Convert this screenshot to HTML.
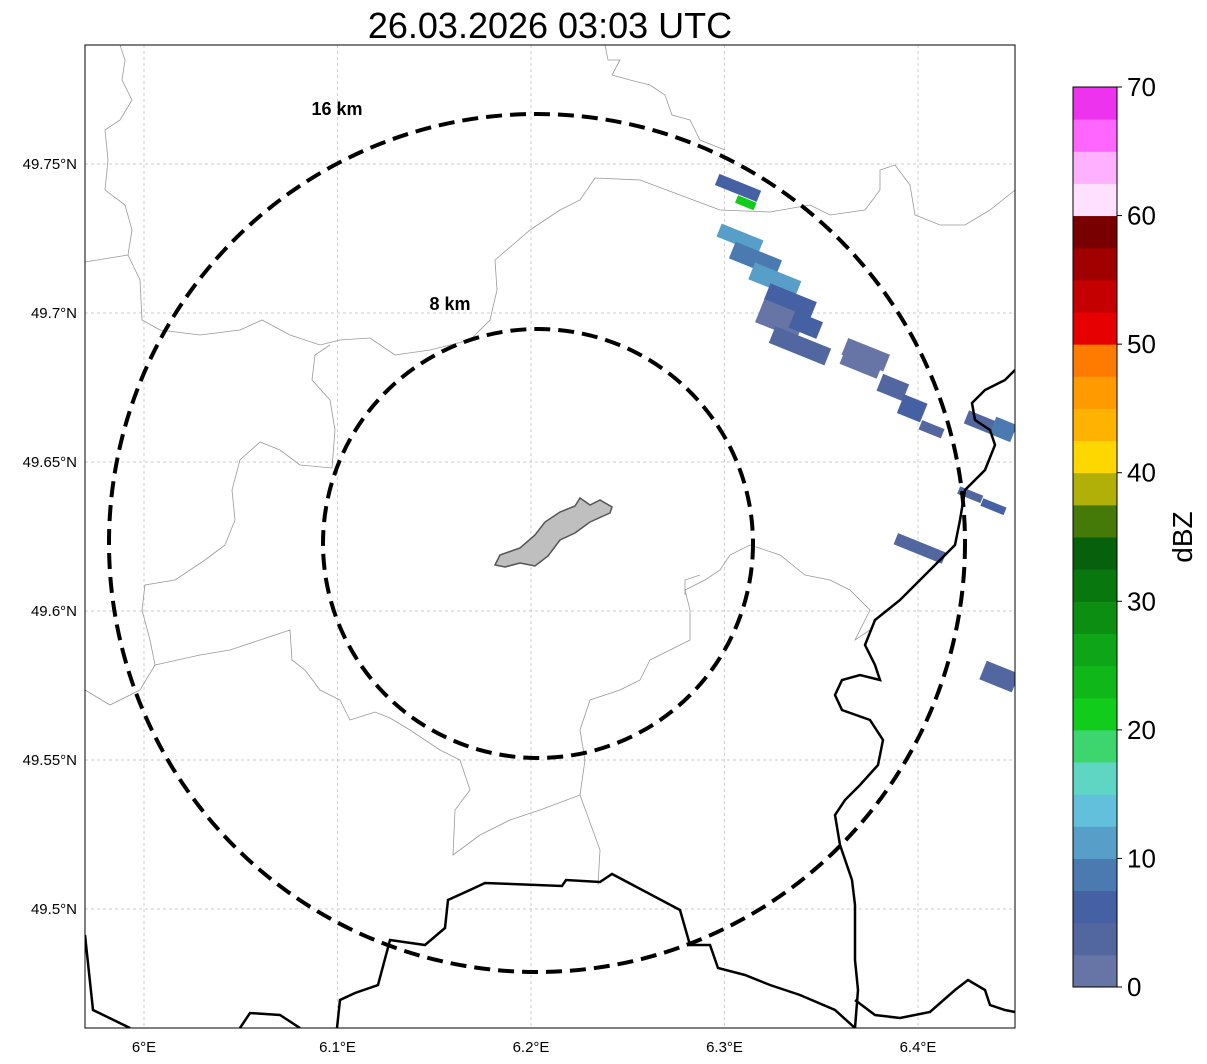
<!DOCTYPE html>
<html><head><meta charset="utf-8"><style>
body{margin:0;background:#fff;font-family:"Liberation Sans",sans-serif}
svg{display:block}
</style></head><body>
<svg id="chart" width="1207" height="1064" viewBox="0 0 1207 1064">
<text x="550" y="38" font-size="36" text-anchor="middle">26.03.2026 03:03 UTC</text>
<defs><clipPath id="mapclip"><rect x="85" y="45" width="930" height="983"/></clipPath></defs>
<g id="grid"></g>
<g clip-path="url(#mapclip)">
<g fill="none" stroke="#999" stroke-width="0.8">
<path d="M120,45 L125,60 L122,80 L132,100 L120,120 L105,130 L108,160 L105,190 L125,205 L132,230 L128,255 L85,262"/>
<path d="M128,255 L140,280 L142,320 L160,330 L200,335 L240,330 L262,320 L290,335 L320,345 L340,340 L370,338 L395,355 L430,350 L470,340 L490,320 L497,290 L495,260 L530,230 L560,210 L580,200 L595,178 L640,180 L680,195 L720,210 L770,212 L810,205 L830,215 L865,210 L880,190 L880,170 L895,165 L910,185 L915,215 L940,225 L965,225 L990,210 L1015,190"/>
<path d="M605,45 L608,60 L620,60 L612,75 L630,80 L650,85 L665,95 L672,115 L690,120 L700,140 L725,150"/>
<path d="M330,345 L315,355 L312,380 L330,400 L335,430 L332,468 L300,465 L280,450 L260,442 L240,460 L232,490 L235,520 L225,545 L205,560 L175,580 L145,585 L142,610 L150,640 L155,665 L140,690 L110,705 L85,690"/>
<path d="M155,665 L200,655 L230,650 L260,640 L290,630 L292,660 L305,670 L320,690 L340,700 L350,720 L375,712 L390,718 L410,730 L440,750 L460,760 L470,790 L455,810 L453,855 L480,835 L510,820 L540,810 L580,795 L600,850 L598,885"/>
<path d="M580,795 L585,760 L580,730 L590,700 L620,690 L640,680 L650,660 L670,650 L690,640 L690,610 L685,590 L705,580 L720,570 L730,555 L750,545 L780,555 L805,575 L830,580 L850,590 L870,610 L855,640 L870,630"/>
<path d="M685,595 L685,580 L700,575"/>
</g>
<g id="echoes"></g>
<g fill="none" stroke="#000" stroke-width="2.5">
<path d="M85,935 L93,1010 L130,1028"/>
<path d="M240,1028 L250,1013 L280,1015 L300,1028"/>
<path d="M337,1028 L340,1000 L355,993 L378,985 L390,940 L425,945 L445,928 L448,900 L470,890 L485,883 L562,886 L566,880 L600,882 L612,874 L680,910 L690,945 L710,945 L718,968 L745,975 L770,985 L800,995 L835,1010 L855,1028"/>
<path d="M1015,370 L1005,380 L985,390 L972,403 L975,420 L990,430 L995,445 L985,470 L965,490 L960,520 L955,545 L935,565 L920,580 L900,600 L875,620 L865,645 L875,665 L880,680 L860,675 L842,680 L835,695 L842,710 L870,720 L883,740 L878,765 L860,785 L845,800 L835,815 L840,845 L852,880 L855,905 L855,960 L858,990 L855,1028"/>
<path d="M855,1000 L875,1015 L900,1018 L930,1012 L955,990 L968,980 L985,990 L990,1005 L1005,1010 L1015,1012"/>
</g>
<path d="M495,565 L500,555 L520,548 L535,535 L545,522 L560,512 L575,506 L580,498 L590,505 L600,500 L612,507 L610,513 L590,522 L575,533 L560,540 L548,556 L535,566 L520,563 L505,567 Z" fill="#bfbfbf" stroke="#555" stroke-width="1.5"/>
<ellipse cx="537" cy="543" rx="428" ry="429" fill="none" stroke="#000" stroke-width="4" stroke-dasharray="16,8"/>
<ellipse cx="538" cy="543.5" rx="215" ry="214.5" fill="none" stroke="#000" stroke-width="4" stroke-dasharray="16,8"/>
</g>
<text x="337" y="115" font-size="18" font-weight="bold" text-anchor="middle">16 km</text>
<text x="450" y="310" font-size="18" font-weight="bold" text-anchor="middle">8 km</text>
<rect x="85" y="45" width="930" height="983" fill="none" stroke="#000" stroke-width="1"/>
<g id="axes" font-size="15"></g>
<g id="cbar"></g>
<text x="1192" y="537" font-size="28" text-anchor="middle" transform="rotate(-90 1192 537)">dBZ</text>
</svg>
<script>
const lonTicks=[6.0,6.1,6.2,6.3,6.4];
const lonLabels=["6°E","6.1°E","6.2°E","6.3°E","6.4°E"];
const latTicks=[49.75,49.7,49.65,49.6,49.55,49.5];
const latLabels=["49.75°N","49.7°N","49.65°N","49.6°N","49.55°N","49.5°N"];
const cbLevels=[0,2.5,5,7.5,10,12.5,15,17.5,20,22.5,25,27.5,30,32.5,35,37.5,40,42.5,45,47.5,50,52.5,55,57.5,60,62.5,65,67.5,70];
const cbColors=["#6675a6","#52669f","#4560a3","#4a7ab0","#579fc8","#62c0dc","#5fd6c4","#3cd56e","#11cc1a","#0fb818","#0ea616","#0b8e12","#08780e","#07600b","#457a09","#b0b008","#ffd700","#ffb300","#ff9a00","#ff7b00","#e60000","#c40000","#a00000","#780000","#ffe0ff","#ffb0ff","#ff66ff","#ee33ee"];
const cbTicks=[0,10,20,30,40,50,60,70];
const echoLon=[6.307,6.311,6.308,6.316,6.326,6.334,6.329,6.342,6.339,6.373,6.370,6.387,6.397,6.407,6.437,6.444,6.427,6.439,6.401,6.442];
const echoLat=[49.742,49.737,49.725,49.718,49.711,49.704,49.698,49.696,49.689,49.686,49.682,49.675,49.668,49.661,49.662,49.661,49.639,49.635,49.621,49.578];
const echoDbz=[7,20,10,8,11,5,2,6,4,2,1,4,5,3,3,8,4,5,3,3];
const echoW=[45,20,45,50,50,50,45,30,60,45,40,28,25,24,50,22,25,25,52,35];
const echoH=[12,8,14,18,18,18,25,18,18,18,10,18,20,10,14,18,8,8,12,20];
const NS="http://www.w3.org/2000/svg";
const X=lon=>144+(lon-6)*1935;
const Y=lat=>164-(lat-49.75)*2980;
const CY=v=>987-v*(900/70);
function mk(t,a,p){const e=document.createElementNS(NS,t);for(const k in a)e.setAttribute(k,a[k]);p.appendChild(e);return e;}
const grid=document.getElementById('grid'),axes=document.getElementById('axes');
lonTicks.forEach((v,i)=>{
 const l=mk('line',{x1:X(v),x2:X(v),y1:45,y2:1028,stroke:'#bbb','stroke-width':0.7,'stroke-dasharray':'3,3'},grid);
 
 
 const t=mk('text',{x:X(v),y:1052,'text-anchor':'middle'},axes);t.textContent=lonLabels[i];
 
 
});
latTicks.forEach((v,i)=>{
 const l=mk('line',{x1:85,x2:1015,y1:Y(v),y2:Y(v),stroke:'#bbb','stroke-width':0.7,'stroke-dasharray':'3,3'},grid);
 
 
 const t=mk('text',{x:77,y:Y(v)+5,'text-anchor':'end'},axes);t.textContent=latLabels[i];
 
 
});
function colorFor(d){let i=Math.floor(d/2.5);i=Math.max(0,Math.min(cbColors.length-1,i));return cbColors[i];}
const eg=document.getElementById('echoes');
echoLon.forEach((lon,i)=>{
 const cx=X(lon),cy=Y(echoLat[i]),w=echoW[i],h=echoH[i];
 const r=mk('rect',{x:cx-w/2,y:cy-h/2,width:w,height:h,fill:colorFor(echoDbz[i]),transform:`rotate(22 ${cx} ${cy})`},eg);
 
 
});
const cb=document.getElementById('cbar');
for(let i=0;i<cbColors.length;i++){
 const y1=CY(cbLevels[i+1]),y0=CY(cbLevels[i]);
 const r=mk('rect',{x:1073,y:y1,width:44,height:y0-y1+0.5,fill:cbColors[i]},cb);
 
 
}
mk('rect',{x:1073,y:87,width:44,height:900,fill:'none',stroke:'#000','stroke-width':1},cb);
cbTicks.forEach(v=>{
 mk('line',{x1:1117,x2:1122,y1:CY(v),y2:CY(v),stroke:'#000'},cb);
 const t=mk('text',{x:1127,y:CY(v)+9,'font-size':26},cb);t.textContent=v;
 
 
});
</script>
</body></html>
